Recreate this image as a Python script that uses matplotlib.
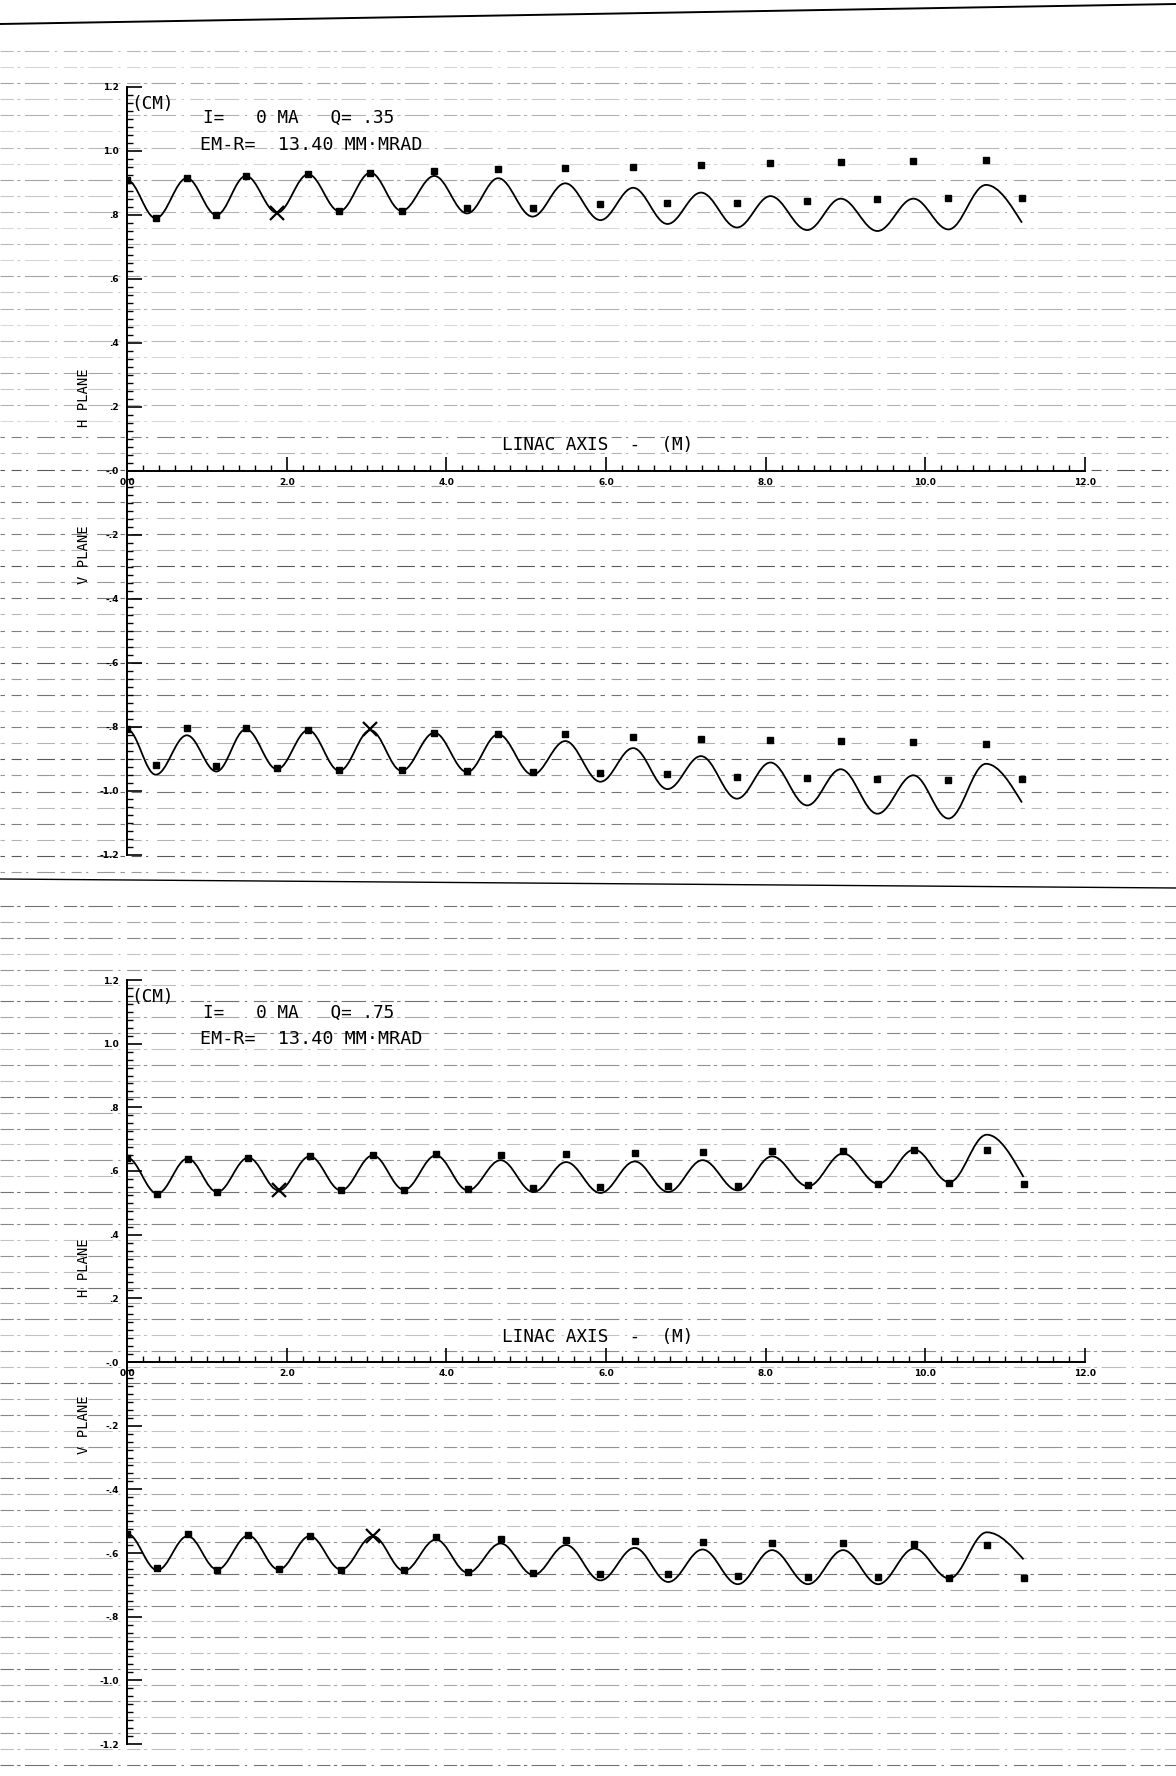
import numpy as np
import matplotlib
matplotlib.use("Agg")
import matplotlib.pyplot as plt
from matplotlib.path import Path
from matplotlib.patches import PathPatch
from matplotlib.lines import Line2D
from matplotlib.ticker import MultipleLocator

# ---------------- data ----------------
# positions (m) of the extrema / plotted points along the linac
z_page1 = [0.0, 0.36, 0.75, 1.12, 1.49, 1.88, 2.27, 2.66, 3.05, 3.44, 3.85, 4.26, 4.65, 5.08,
           5.49, 5.93, 6.34, 6.77, 7.19, 7.64, 8.06, 8.52, 8.94, 9.40, 9.85, 10.29, 10.76, 11.21]
z_page2 = [0.0, 0.38, 0.76, 1.13, 1.52, 1.90, 2.29, 2.68, 3.08, 3.47, 3.87, 4.27, 4.68, 5.09,
           5.50, 5.93, 6.36, 6.78, 7.21, 7.65, 8.08, 8.53, 8.97, 9.41, 9.86, 10.30, 10.77, 11.23]

# page 1 (Q = .35)
h1_curve = [0.909, 0.790, 0.915, 0.800, 0.922, 0.807, 0.927, 0.812, 0.932, 0.813, 0.922, 0.805,
            0.915, 0.795, 0.899, 0.784, 0.885, 0.772, 0.870, 0.761, 0.859, 0.753, 0.851, 0.750,
            0.851, 0.755, 0.894, 0.776]
h1_points = [0.909, 0.790, 0.915, 0.800, 0.922, 0.807, 0.927, 0.812, 0.932, 0.813, 0.937, 0.821,
             0.944, 0.823, 0.946, 0.833, 0.949, 0.836, 0.956, 0.838, 0.961, 0.845, 0.965, 0.849,
             0.969, 0.854, 0.972, 0.852]
v1_curve = [-0.807, -0.949, -0.826, -0.939, -0.807, -0.932, -0.810, -0.937, -0.810, -0.937,
            -0.818, -0.941, -0.823, -0.949, -0.844, -0.971, -0.866, -0.994, -0.891, -1.024,
            -0.911, -1.045, -0.932, -1.071, -0.951, -1.086, -0.915, -1.036]
v1_points = [-0.807, -0.920, -0.802, -0.923, -0.802, -0.928, -0.810, -0.934, -0.807, -0.934,
             -0.818, -0.939, -0.823, -0.941, -0.823, -0.944, -0.830, -0.947, -0.839, -0.956,
             -0.842, -0.959, -0.844, -0.961, -0.847, -0.965, -0.852, -0.961]

# page 2 (Q = .75)
h2_curve = [0.642, 0.529, 0.639, 0.534, 0.642, 0.539, 0.646, 0.539, 0.649, 0.541, 0.649, 0.539,
            0.634, 0.534, 0.628, 0.531, 0.630, 0.534, 0.634, 0.539, 0.646, 0.552, 0.655, 0.560,
            0.667, 0.565, 0.714, 0.581]
h2_points = [0.642, 0.529, 0.639, 0.534, 0.642, 0.539, 0.646, 0.539, 0.649, 0.541, 0.652, 0.544,
             0.650, 0.548, 0.653, 0.550, 0.658, 0.552, 0.660, 0.553, 0.662, 0.555, 0.663, 0.560,
             0.667, 0.562, 0.667, 0.560]
v2_curve = [-0.539, -0.654, -0.547, -0.652, -0.545, -0.652, -0.547, -0.652, -0.547, -0.656,
            -0.558, -0.662, -0.570, -0.669, -0.575, -0.686, -0.584, -0.691, -0.589, -0.698,
            -0.591, -0.698, -0.591, -0.698, -0.586, -0.680, -0.535, -0.620]
v2_points = [-0.539, -0.646, -0.541, -0.652, -0.545, -0.650, -0.547, -0.652, -0.547, -0.654,
             -0.551, -0.659, -0.557, -0.662, -0.559, -0.665, -0.562, -0.667, -0.565, -0.672,
             -0.568, -0.674, -0.570, -0.676, -0.573, -0.677, -0.575, -0.677]

cross_index_h = 5   # point drawn as X in H plane
cross_index_v = 8   # point drawn as X in V plane

x_ticks = [0, 2, 4, 6, 8, 10, 12]
x_tick_labels = ["0.0", "2.0", "4.0", "6.0", "8.0", "10.0", "12.0"]
y_ticks = [1.2, 1.0, 0.8, 0.6, 0.4, 0.2, 0.0, -0.2, -0.4, -0.6, -0.8, -1.0, -1.2]
y_tick_labels = ["1.2", "1.0", ".8", ".6", ".4", ".2", "-.0", "-.2", "-.4", "-.6", "-.8", "-1.0", "-1.2"]
q_labels = [".35", ".75"]

# ---------------- figure ----------------
W, H = 1176, 1776
fig = plt.figure(figsize=(W / 100, H / 100), dpi=100)
fig.patch.set_facecolor("white")

def fx(px):
    return px / W

def fy(py):
    return 1 - py / H

MONO = "DejaVu Sans Mono"

# scan-like ruled lines (decoration)
alphas = [0.5, 0.3, 0.65, 0.4, 0.55, 0.28]
dash = (0, (12, 3, 3, 4, 22, 5, 2, 6))
dash2 = (0, (4, 6, 9, 4, 2, 8, 16, 5))
for i, py in enumerate(np.arange(51, 873, 16.1)):
    a = alphas[i % len(alphas)] * (0.55 if py < 430 else 1.0)
    fig.add_artist(Line2D([0, 1], [fy(py), fy(py)], transform=fig.transFigure, color="black",
                          lw=0.8, alpha=a, linestyle=dash if py < 430 else dash2, zorder=-1))
for i, py in enumerate(np.arange(906, 1772, 15.9)):
    fig.add_artist(Line2D([0, 1], [fy(py), fy(py)], transform=fig.transFigure, color="black",
                          lw=0.8, alpha=alphas[(i + 2) % len(alphas)] * 0.85, linestyle=dash,
                          zorder=-1))
fig.add_artist(Line2D([0, 1], [fy(24), fy(4)], transform=fig.transFigure, color="black", lw=1.4))
fig.add_artist(Line2D([0, 1], [fy(879), fy(888)], transform=fig.transFigure, color="black", lw=1.0))


def smooth_path(xs, ys, k=0.3642):
    verts = [(xs[0], ys[0])]
    codes = [Path.MOVETO]
    n = len(xs)
    for i in range(n - 1):
        x0, y0, x1, y1 = xs[i], ys[i], xs[i + 1], ys[i + 1]
        d = x1 - x0
        c1 = (x0 + k * d, y0)
        if i == n - 2:
            c2 = (x1 - 0.3 * d, y1 + 0.45 * (y0 - y1))
        else:
            c2 = (x1 - k * d, y1)
        verts += [c1, c2, (x1, y1)]
        codes += [Path.CURVE4] * 3
    return Path(verts, codes)


def draw_series(ax, z, curve, pts, ci):
    ax.add_patch(PathPatch(smooth_path(z, curve), fill=False, edgecolor="black", lw=1.3, zorder=3))
    zs = [v for i, v in enumerate(z) if i != ci]
    ps = [v for i, v in enumerate(pts) if i != ci]
    ax.plot(zs, ps, "s", color="black", ms=3.8, ls="none", zorder=4)
    ax.plot([z[ci]], [pts[ci]], "x", color="black", ms=10, mew=1.6, ls="none", zorder=4)


def setup_axes(ax):
    ax.set_xlim(0, 12)
    ax.set_ylim(-1.2, 1.2)
    ax.patch.set_alpha(0)
    for s in ["top", "right"]:
        ax.spines[s].set_visible(False)
    ax.spines["bottom"].set_position(("data", 0))
    ax.spines["left"].set_linewidth(1.4)
    ax.spines["bottom"].set_linewidth(1.4)
    ax.set_xticks(x_ticks)
    ax.set_xticklabels(x_tick_labels)
    ax.xaxis.set_minor_locator(MultipleLocator(0.2))
    ax.set_yticks(y_ticks)
    ax.set_yticklabels(y_tick_labels)
    ax.yaxis.set_minor_locator(MultipleLocator(0.025))
    ax.tick_params(axis="x", which="major", direction="in", length=10, width=1.2, pad=5, labelsize=6.5)
    ax.tick_params(axis="x", which="minor", direction="in", length=4.5, width=1.0)
    ax.tick_params(axis="y", which="major", direction="in", length=11, width=1.2, pad=6, labelsize=6.5)
    ax.tick_params(axis="y", which="minor", direction="in", length=4.5, width=1.0)
    for lab in ax.get_xticklabels() + ax.get_yticklabels():
        lab.set_fontweight("bold")


pages = [
    dict(top=87, bottom=855, z=z_page1, h=(h1_curve, h1_points), v=(v1_curve, v1_points), q=q_labels[0],
         cm=104, i_y=118, em_y=145, linac_y=445, hp=398, vp=555),
    dict(top=980, bottom=1744, z=z_page2, h=(h2_curve, h2_points), v=(v2_curve, v2_points), q=q_labels[1],
         cm=997, i_y=1013, em_y=1039, linac_y=1337, hp=1268, vp=1425),
]

for p in pages:
    left_px, right_px = 127, 1085
    ax = fig.add_axes([fx(left_px), fy(p["bottom"]), (right_px - left_px) / W,
                       (p["bottom"] - p["top"]) / H])
    setup_axes(ax)
    draw_series(ax, p["z"], p["h"][0], p["h"][1], cross_index_h)
    draw_series(ax, p["z"], p["v"][0], p["v"][1], cross_index_v)

    fig.text(fx(131), fy(p["cm"]), "(CM)", family=MONO, fontsize=12.8, va="center", ha="left")
    fig.text(fx(203), fy(p["i_y"]), "I=   0 MA   Q= " + p["q"], family=MONO, fontsize=12.8,
             va="center", ha="left")
    fig.text(fx(200), fy(p["em_y"]), "EM-R=  13.40 MM\u00b7MRAD", family=MONO, fontsize=13.2,
             va="center", ha="left")
    fig.text(fx(502), fy(p["linac_y"]), "LINAC AXIS  -  (M)", family=MONO, fontsize=12.8,
             va="center", ha="left")
    fig.text(fx(84), fy(p["hp"]), "H PLANE", family=MONO, fontsize=10, rotation=90,
             va="center", ha="center")
    fig.text(fx(84), fy(p["vp"]), "V PLANE", family=MONO, fontsize=10, rotation=90,
             va="center", ha="center")

fig.savefig("out.png", dpi=100)
